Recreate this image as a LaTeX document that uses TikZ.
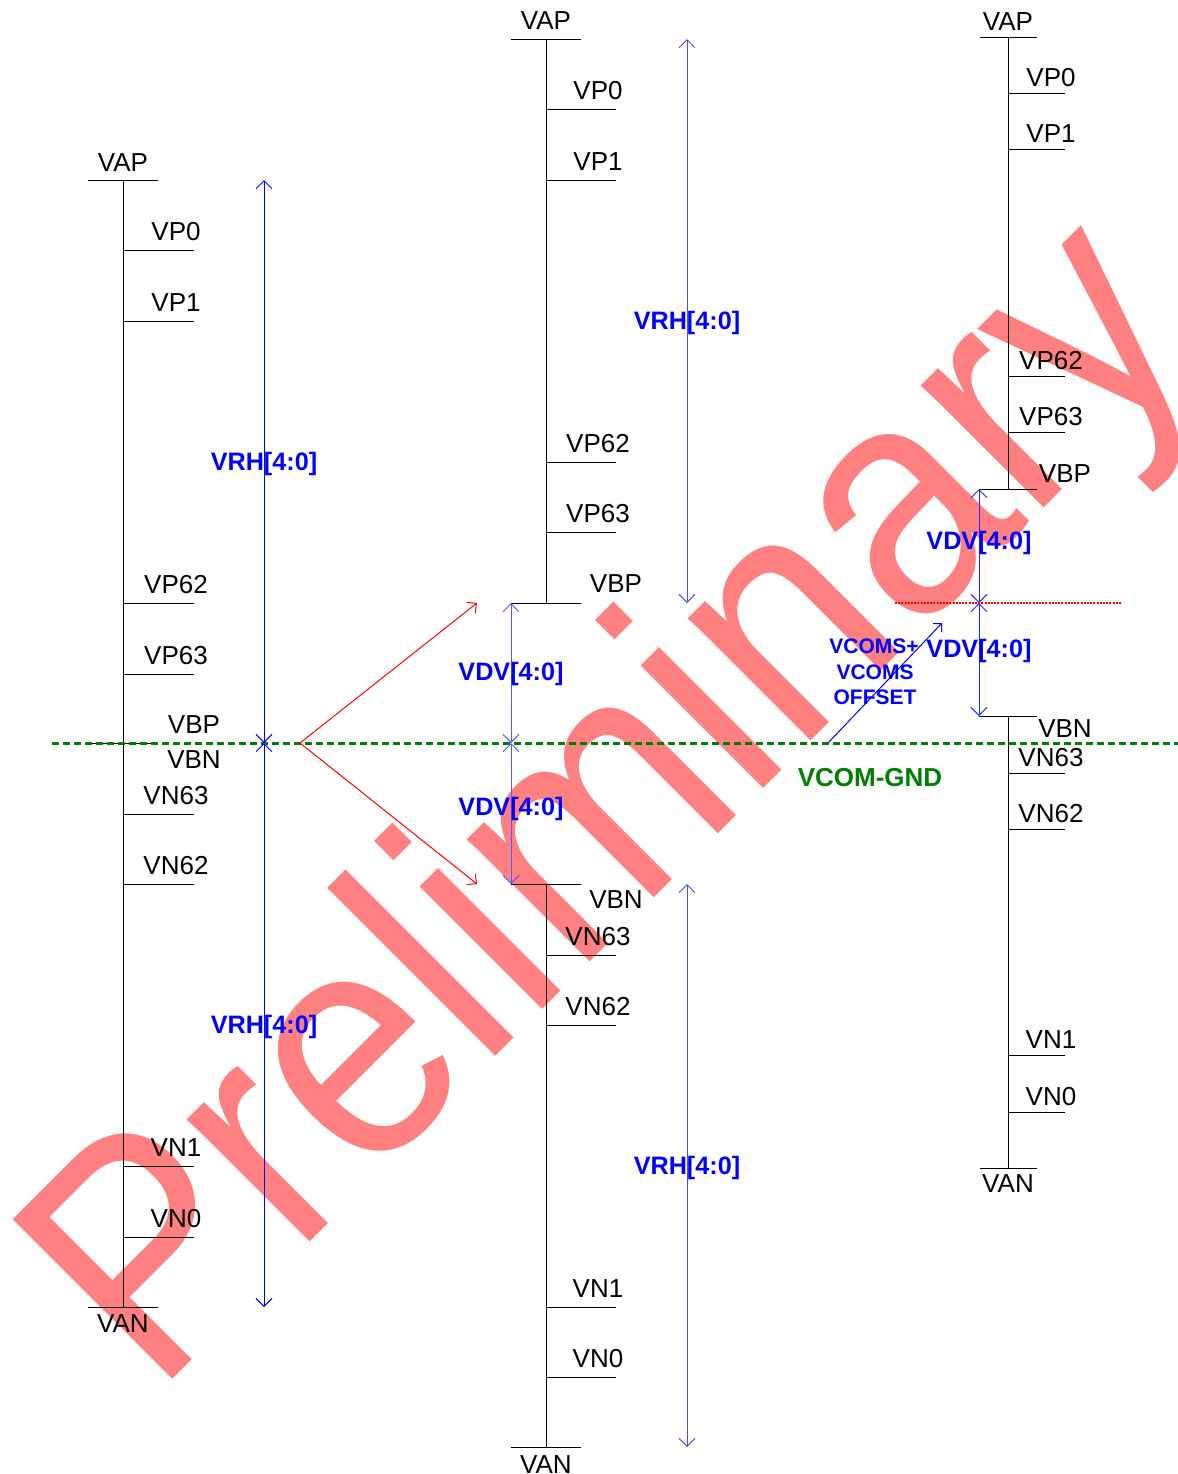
\documentclass[tikz,border=0pt]{standalone}
\usepackage{fontspec}
\setmainfont{Liberation Sans}
\newfontfamily\wmfont[FakeStretch=0.905]{Liberation Sans}
\usetikzlibrary{arrows.meta}
\definecolor{wmred}{RGB}{255,128,128}
\definecolor{gndgreen}{RGB}{0,128,0}
\tikzset{
  rail/.style={line width=0.5pt, black},
  lbl/.style={font=\fontsize{13}{15}\selectfont, anchor=base, inner sep=0pt},
  blbl/.style={font=\fontsize{12.6}{15}\selectfont\bfseries, text=blue, anchor=base, inner sep=0pt},
  slbl/.style={font=\fontsize{10.5}{12}\selectfont\bfseries, text=blue, anchor=base, inner sep=0pt},
  dimarrow/.style={line width=0.5pt, {Straight Barb[length=4pt,width=8pt]}-{Straight Barb[length=4pt,width=8pt]}},
  redarrow/.style={red, line width=0.5pt, -{Straight Barb[length=3.5pt,width=7pt]}},
  wmark/.style={text=wmred, font=\wmfont\fontsize{164}{164}\selectfont, anchor=base west, inner sep=0pt, rotate=45}
}
\begin{document}
\begin{tikzpicture}[x=0.5pt,y=-0.5pt]
\useasboundingbox (0,0) rectangle (1178,1474);
% watermark (behind everything)
\begin{scope}
  \clip (0,0) rectangle (1178,1474);
  \node[wmark] (wm) at (155,1397) {Preliminary};
\end{scope}

% ---------- left column ----------
\coordinate (Ltop) at (123,180);
\coordinate (Lbot) at (123,1307);
\draw[rail] (Ltop) -- (Lbot);
\draw[rail] (88,180) -- (158,180);
\draw[rail] (88,1307) -- (158,1307);
\draw[rail] (88,743) -- (158,743);
\node[lbl] (LVAP) at (123,171) {VAP};
\node[lbl] (LVAN) at (123,1332) {VAN};
\node[lbl] (LVBP) at (194,733) {VBP};
\node[lbl] (LVBN) at (194,768) {VBN};
\foreach \y/\t in {250/VP0, 321/VP1, 603/VP62, 674/VP63, 814/VN63, 884/VN62, 1166/VN1, 1237/VN0}{
  \draw[rail] (123,\y) -- (194,\y);
  \node[lbl] at (176,\y-10) {\t};
}

% ---------- centre column ----------
\coordinate (Ctop) at (546,39);
\coordinate (Cvbp) at (546,603);
\coordinate (Cvbn) at (546,884);
\coordinate (Cbot) at (546,1447);
\draw[rail] (Ctop) -- (Cvbp);
\draw[rail] (Cvbn) -- (Cbot);
\draw[rail] (511,39) -- (581,39);
\draw[rail] (511,603) -- (581,603);
\draw[rail] (511,884) -- (581,884);
\draw[rail] (511,1447) -- (581,1447);
\node[lbl] (CVAP) at (546,29) {VAP};
\node[lbl] (CVAN) at (546,1473) {VAN};
\node[lbl] (CVBP) at (616,592) {VBP};
\node[lbl] (CVBN) at (616,908) {VBN};
\foreach \y/\t in {109/VP0, 180/VP1, 462/VP62, 532/VP63, 955/VN63, 1025/VN62, 1307/VN1, 1377/VN0}{
  \draw[rail] (546,\y) -- (616,\y);
  \node[lbl] at (598,\y-10) {\t};
}

% ---------- right column ----------
\coordinate (Rtop) at (1008,37);
\coordinate (Rvbp) at (1008,489);
\coordinate (Rvbn) at (1008,716);
\coordinate (Rbot) at (1008,1168);
\draw[rail] (Rtop) -- (Rvbp);
\draw[rail] (Rvbn) -- (Rbot);
\draw[rail] (980,37) -- (1037,37);
\draw[rail] (979,489) -- (1037,489);
\draw[rail] (979,716) -- (1037,716);
\draw[rail] (980,1168) -- (1037,1168);
\node[lbl] (RVAP) at (1008,30) {VAP};
\node[lbl] (RVAN) at (1008,1192) {VAN};
\node[lbl] (RVBP) at (1065,482) {VBP};
\node[lbl] (RVBN) at (1065,737) {VBN};
\foreach \y/\t in {93/VP0, 149/VP1, 376/VP62, 432/VP63, 773/VN63, 829/VN62, 1055/VN1, 1112/VN0}{
  \draw[rail] (1008,\y) -- (1065,\y);
  \node[lbl] at (1051,\y-6.5) {\t};
}

% ---------- VCOM ground line ----------
\coordinate (gndL) at (52,743);
\coordinate (gndR) at (1178,743);
\draw[gndgreen, line width=1.5pt, dash pattern=on 3.5pt off 2pt] (gndL) -- (gndR);
\node[font=\fontsize{13}{15}\selectfont\bfseries, text=gndgreen, anchor=base, inner sep=0pt] (gndlbl) at (870,786) {VCOM-GND};

% ---------- dimension arrows ----------
\coordinate (A1t) at (264,180);
\coordinate (A1m) at (264,743);
\coordinate (A1b) at (264,1307);
\draw[dimarrow, blue] (A1t) -- (A1m);
\draw[dimarrow, blue] (A1m) -- (A1b);
\node[blbl] at (264,470) {VRH[4:0]};
\node[blbl] at (264,1033) {VRH[4:0]};

\coordinate (A2t) at (687,39);
\coordinate (A2m) at (687,603);
\coordinate (A2n) at (687,884);
\coordinate (A2b) at (687,1447);
\draw[dimarrow, blue!70] (A2t) -- (A2m);
\draw[dimarrow, blue!70] (A2n) -- (A2b);
\node[blbl] at (687,329) {VRH[4:0]};
\node[blbl] at (687,1174) {VRH[4:0]};

\coordinate (A3t) at (511,603);
\coordinate (A3m) at (511,743);
\coordinate (A3b) at (511,884);
\draw[dimarrow, blue!65] (A3t) -- (A3m);
\draw[dimarrow, blue!65] (A3m) -- (A3b);
\node[blbl] at (511,680) {VDV[4:0]};
\node[blbl] at (511,815) {VDV[4:0]};

\coordinate (A4t) at (979,489);
\coordinate (A4m) at (979,603);
\coordinate (A4b) at (979,716);
\draw[dimarrow, blue!85] (A4t) -- (A4m);
\draw[dimarrow, blue!85] (A4m) -- (A4b);
\node[blbl] at (979,549) {VDV[4:0]};
\node[blbl] at (979,657) {VDV[4:0]};

% ---------- red arrows and dotted level ----------
\coordinate (Rsrc) at (300,743);
\coordinate (Rup) at (477,603);
\coordinate (Rdn) at (477,884);
\draw[redarrow] (Rsrc) -- (Rup);
\draw[redarrow] (Rsrc) -- (Rdn);
\coordinate (dotL) at (895,603);
\coordinate (dotR) at (1122,603);
\draw[red, line width=0.6pt, dash pattern=on 1pt off 0.6pt] (dotL) -- (dotR);

% ---------- VCOMS offset ----------
\coordinate (vsA) at (828,743);
\coordinate (vsB) at (942,623);
\draw[blue, line width=0.5pt, -{Straight Barb[length=3pt,width=6pt]}] (vsA) -- (vsB);
\node[slbl] at (874,653) {VCOMS+};
\node[slbl] at (875,679) {VCOMS};
\node[slbl] at (875,704) {OFFSET};
\end{tikzpicture}
\end{document}
